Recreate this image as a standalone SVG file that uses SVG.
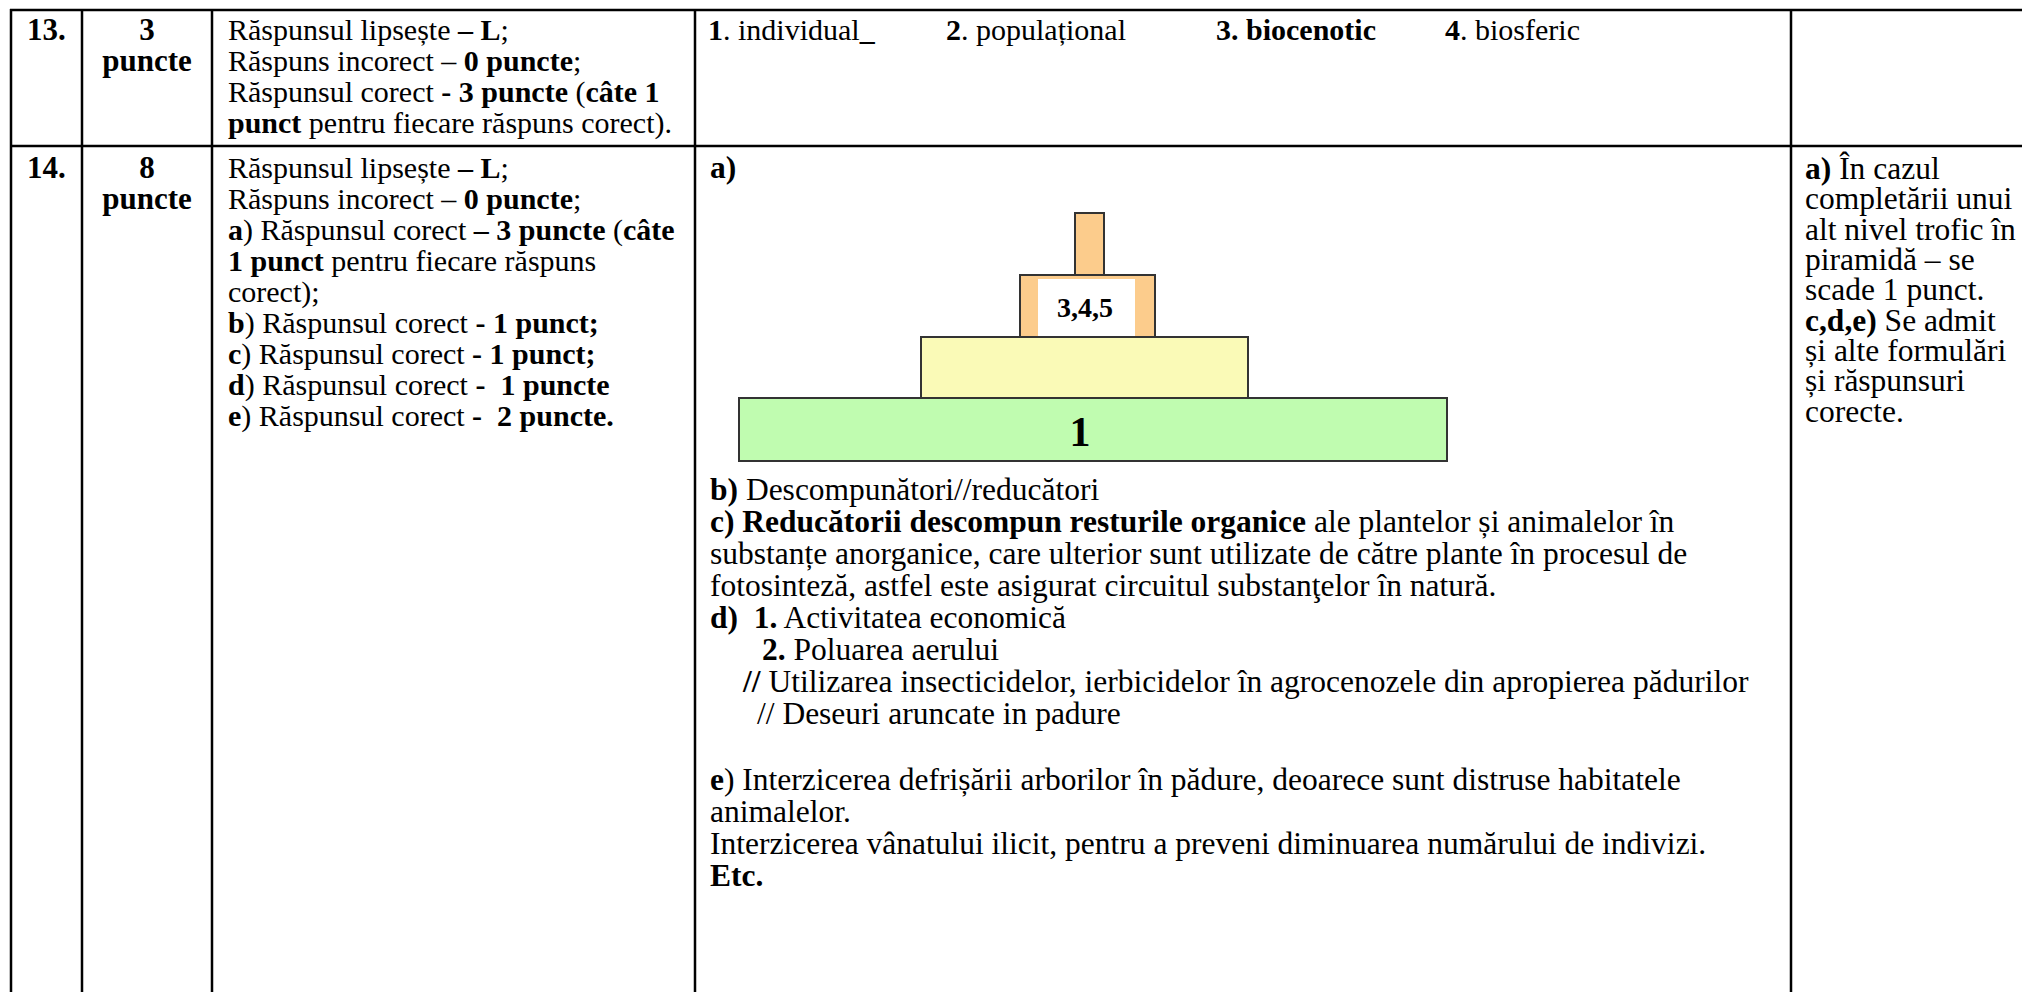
<svg xmlns="http://www.w3.org/2000/svg" width="2022" height="992" viewBox="0 0 2022 992">
<style>
  text { font-family: "Liberation Serif", "Times New Roman", serif; fill: #000; }
  .b { font-weight: bold; }
  .hd { font-size: 31px; font-weight: bold; }
  .c3 { font-size: 30px; }
  .c4 { font-size: 31.5px; }
  .c5 { font-size: 31.5px; }
  .grid line { stroke: #000; stroke-width: 2.5; }
  .lvl { stroke: #333; stroke-width: 2; }
</style>
<rect x="0" y="0" width="2022" height="992" fill="#fff"/>

<g id="grid" class="grid">
  <line x1="10" y1="10" x2="2030" y2="10"/>
  <line x1="10" y1="146" x2="2030" y2="146"/>
  <line x1="11" y1="9" x2="11" y2="995"/>
  <line x1="82" y1="9" x2="82" y2="995"/>
  <line x1="212" y1="9" x2="212" y2="995"/>
  <line x1="695" y1="9" x2="695" y2="995"/>
  <line x1="1791" y1="9" x2="1791" y2="995"/>
</g>

<g id="row13-number"><text class="hd" x="27" y="40">13.</text></g>
<g id="row13-points">
  <text class="hd" x="147" y="40" text-anchor="middle">3</text>
  <text class="hd" x="147" y="71" text-anchor="middle">puncte</text>
</g>
<g id="row13-criteria">
  <text class="c3" x="228" y="40">Răspunsul lipsește <tspan class="b">– L</tspan>;</text>
  <text class="c3" x="228" y="71">Răspuns incorect – <tspan class="b">0 puncte</tspan>;</text>
  <text class="c3" x="228" y="102">Răspunsul corect <tspan class="b">- 3 puncte</tspan> (<tspan class="b">câte 1</tspan></text>
  <text class="c3" x="228" y="133"><tspan class="b">punct</tspan> pentru fiecare răspuns corect).</text>
</g>
<g id="row13-answer">
  <text class="c3" x="708" y="40"><tspan class="b">1</tspan>. individual<tspan class="b">_</tspan></text>
  <text class="c3" x="946" y="40"><tspan class="b">2</tspan>. populațional</text>
  <text class="c3 b" x="1216" y="40">3. biocenotic</text>
  <text class="c3" x="1445" y="40"><tspan class="b">4</tspan>. biosferic</text>
</g>

<g id="row14-number"><text class="hd" x="27" y="178">14.</text></g>
<g id="row14-points">
  <text class="hd" x="147" y="178" text-anchor="middle">8</text>
  <text class="hd" x="147" y="209" text-anchor="middle">puncte</text>
</g>
<g id="row14-criteria">
  <text class="c3" x="228" y="178">Răspunsul lipsește <tspan class="b">– L</tspan>;</text>
  <text class="c3" x="228" y="209">Răspuns incorect – <tspan class="b">0 puncte</tspan>;</text>
  <text class="c3" x="228" y="240"><tspan class="b">a</tspan>) Răspunsul corect <tspan class="b">– 3 puncte</tspan> (<tspan class="b">câte</tspan></text>
  <text class="c3" x="228" y="271"><tspan class="b">1 punct</tspan> pentru fiecare răspuns</text>
  <text class="c3" x="228" y="302">corect);</text>
  <text class="c3" x="228" y="333"><tspan class="b">b</tspan>) Răspunsul corect <tspan class="b">- 1 punct;</tspan></text>
  <text class="c3" x="228" y="364"><tspan class="b">c</tspan>) Răspunsul corect <tspan class="b">- 1 punct;</tspan></text>
  <text class="c3" x="228" y="395" xml:space="preserve"><tspan class="b">d</tspan>) Răspunsul corect <tspan class="b">-  1 puncte</tspan></text>
  <text class="c3" x="228" y="426" xml:space="preserve"><tspan class="b">e</tspan>) Răspunsul corect <tspan class="b">-  2 puncte.</tspan></text>
</g>

<g id="row14-answer">
  <text class="c4 b" x="710" y="178">a)</text>
  <g id="pyramid">
    <g id="level-top">
      <rect x="1075" y="213" width="29" height="62" fill="#fccc8c" class="lvl"/>
    </g>
    <g id="level-345">
      <rect x="1020" y="275" width="135" height="62" fill="#fccc8c" class="lvl"/>
      <rect x="1038" y="279" width="97" height="57" fill="#fff"/>
      <text class="b" x="1085" y="317" text-anchor="middle" style="font-size:28px">3,4,5</text>
    </g>
    <g id="level-2">
      <rect x="921" y="337" width="327" height="61" fill="#fafab7" class="lvl"/>
    </g>
    <g id="level-1">
      <rect x="739" y="398" width="708" height="63" fill="#c0fcb0" class="lvl"/>
      <text class="b" x="1080" y="446" text-anchor="middle" style="font-size:42px">1</text>
    </g>
  </g>
  <text class="c4" x="710" y="500"><tspan class="b">b)</tspan> Descompunători//reducători</text>
  <text class="c4" x="710" y="532"><tspan class="b">c) Reducătorii descompun resturile organice</tspan> ale plantelor și animalelor în</text>
  <text class="c4" x="710" y="564">substanțe anorganice, care ulterior sunt utilizate de către plante în procesul de</text>
  <text class="c4" x="710" y="596">fotosinteză, astfel este asigurat circuitul substanţelor în natură.</text>
  <text class="c4" x="710" y="628" xml:space="preserve"><tspan class="b">d)  1.</tspan> Activitatea economică</text>
  <text class="c4" x="762" y="660"><tspan class="b">2.</tspan> Poluarea aerului</text>
  <text class="c4" x="743" y="692"><tspan class="b">//</tspan> Utilizarea insecticidelor, ierbicidelor în agrocenozele din apropierea pădurilor</text>
  <text class="c4" x="757" y="724">// Deseuri aruncate in padure</text>
  <text class="c4" x="710" y="790"><tspan class="b">e</tspan>) Interzicerea defrișării arborilor în pădure, deoarece sunt distruse habitatele</text>
  <text class="c4" x="710" y="822">animalelor.</text>
  <text class="c4" x="710" y="854">Interzicerea vânatului ilicit, pentru a preveni diminuarea numărului de indivizi.</text>
  <text class="c4 b" x="710" y="886">Etc.</text>
</g>

<g id="row14-notes">
  <text class="c5" x="1805" y="179"><tspan class="b">a)</tspan> În cazul</text>
  <text class="c5" x="1805" y="209">completării unui</text>
  <text class="c5" x="1805" y="240">alt nivel trofic în</text>
  <text class="c5" x="1805" y="270">piramidă – se</text>
  <text class="c5" x="1805" y="300">scade 1 punct.</text>
  <text class="c5" x="1805" y="331"><tspan class="b">c,d,e)</tspan> Se admit</text>
  <text class="c5" x="1805" y="361">și alte formulări</text>
  <text class="c5" x="1805" y="391">și răspunsuri</text>
  <text class="c5" x="1805" y="422">corecte.</text>
</g>
</svg>
